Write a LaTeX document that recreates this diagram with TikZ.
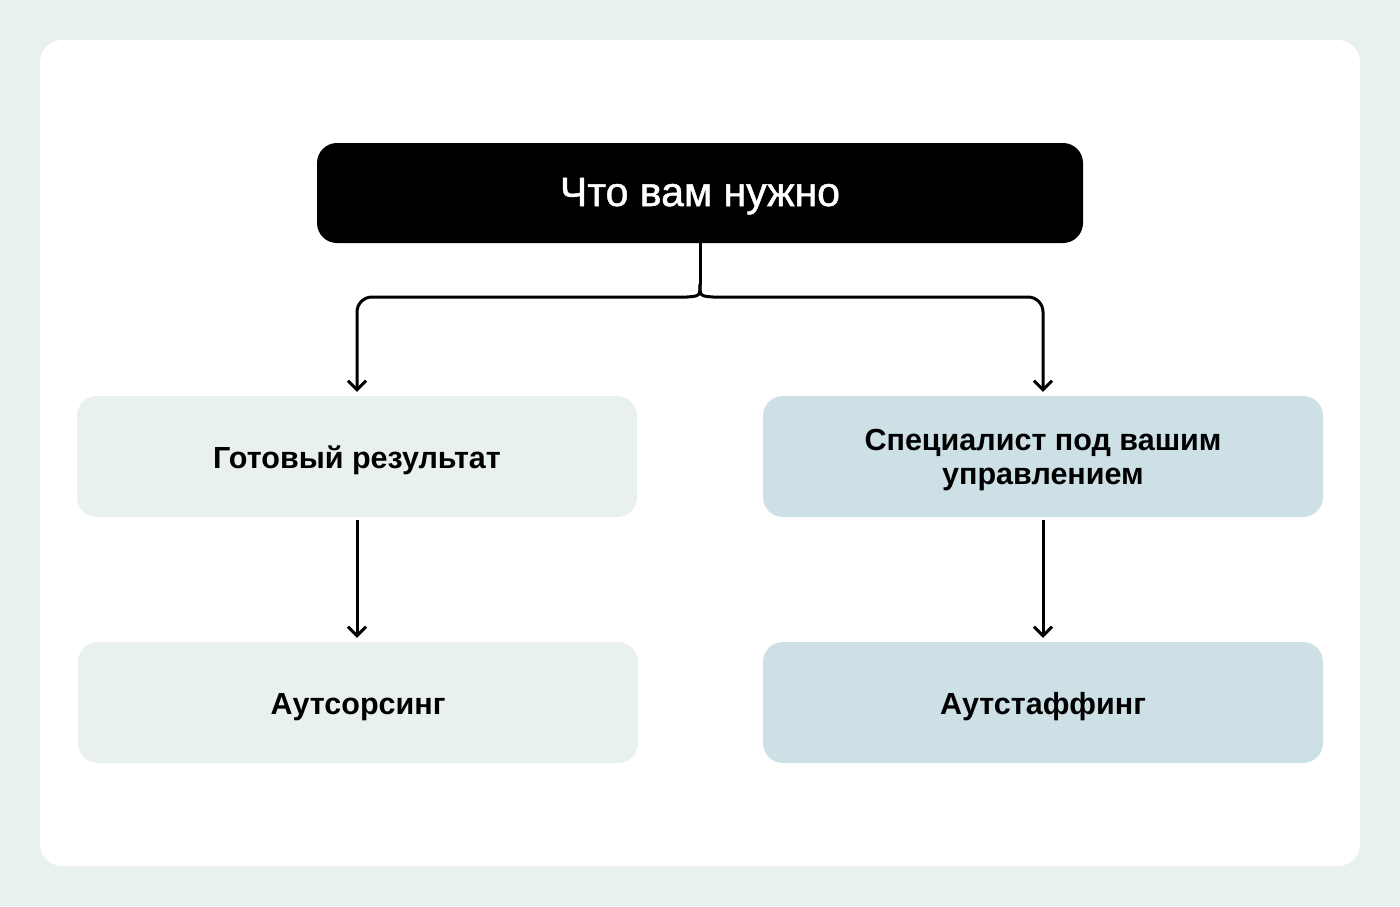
\documentclass[tikz,border=0pt]{standalone}
\usepackage{fontspec}
\setmainfont{Liberation Sans}
\newfontfamily\medfont[FakeBold=1.2]{Liberation Sans}
\usetikzlibrary{arrows.meta}
\definecolor{bgc}{HTML}{E8F0F0}
\definecolor{lightbox}{HTML}{E8F0F0}
\definecolor{bluebox}{HTML}{CDE0E6}
\tikzset{
  box/.style={rounded corners=20pt, minimum width=560pt, minimum height=121pt, inner sep=0pt},
  lbox/.style={box, fill=lightbox},
  bbox/.style={box, fill=bluebox},
  label text/.style={font=\fontsize{30.5}{35}\selectfont\bfseries, text=black, anchor=base, inner sep=0pt},
  conn/.style={draw=black, line width=3pt},
  arr/.style={conn, rounded corners=15pt, -{Straight Barb[length=9pt,width=18pt,line width=3pt]}},
}
\begin{document}
\begin{tikzpicture}[x=1pt,y=-1pt]
\useasboundingbox (0,0) rectangle (1400,906);
\fill[bgc] (0,0) rectangle (1400,906);
\fill[white, rounded corners=22pt] (40,40) rectangle (1360,866);
\node[fill=black, rounded corners=20pt, minimum width=766pt, minimum height=100pt, inner sep=0pt] (top) at (700,193) {};
\node[text=white, font=\fontsize{41}{48}\medfont, anchor=base, inner sep=0pt] (topt) at (700,206) {Что вам нужно};
\node[lbox] (res) at (357,456.5) {};
\node[label text] (rest) at (357,468) {Готовый результат};
\node[bbox] (spec) at (1043,456.5) {};
\node[label text] (spec1) at (1043,450) {Специалист под вашим};
\node[label text] (spec2) at (1043,484.5) {управлением};
\node[lbox] (out) at (358,702.5) {};
\node[label text] (outt) at (358,714) {Аутсорсинг};
\node[bbox] (staff) at (1043,702.5) {};
\node[label text] (stafft) at (1043,714) {Аутстаффинг};
\coordinate (j) at (700,284);
\draw[conn] (top.south) -- (j);
\draw[conn] (j) .. controls (700,296) .. (687,297);
\draw[conn] (j) .. controls (700,296) .. (713,297);
\draw[arr, shorten >=4pt] (687,297) -- (res.north |- 0,297) -- (res.north);
\draw[arr, shorten >=4pt] (713,297) -- (spec.north |- 0,297) -- (spec.north);
\draw[arr, shorten <=3pt, shorten >=4pt] (res.south) -- (res.south |- out.north);
\draw[arr, shorten <=3pt, shorten >=4pt] (spec.south) -- (spec.south |- staff.north);
\end{tikzpicture}
\end{document}
